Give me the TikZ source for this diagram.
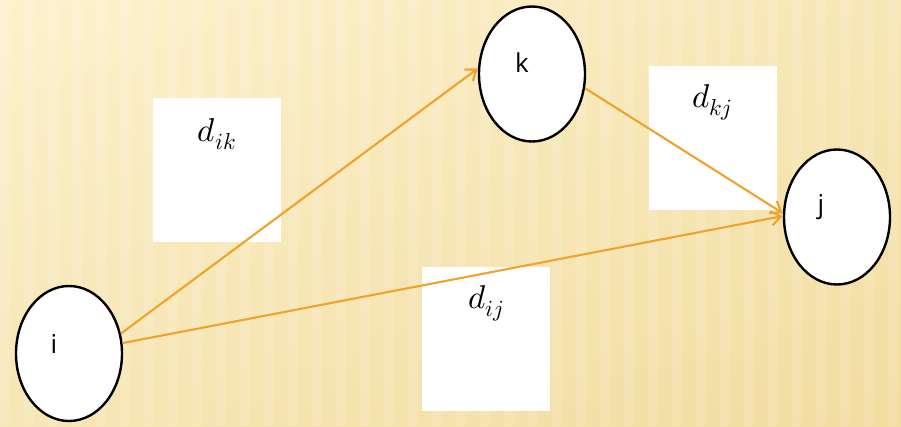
\documentclass[tikz,border=0pt]{standalone}
\usepackage{fontspec}
\usepackage{unicode-math}
\setsansfont{Open Sans}
\setmathfont{Latin Modern Math}
\usetikzlibrary{positioning,arrows.meta,shapes.geometric,calc}
\definecolor{creamlight}{RGB}{253,242,206}
\definecolor{creamdark}{RGB}{242,220,160}
\definecolor{arrorange}{RGB}{240,162,42}

\begin{document}
\begin{tikzpicture}[
  x=1pt, y=-1pt,
  vertex/.style={draw=black, line width=2.4pt, fill=white, ellipse, minimum width=106pt, minimum height=135pt, inner sep=0pt},
  vlabel/.style={font=\sffamily\fontsize{26}{30}\selectfont, text=black},
  weightbox/.style={fill=white, minimum width=128pt, minimum height=144pt, inner sep=0pt},
  wlabel/.style={font=\fontsize{33}{38}\selectfont},
  arr/.style={-{Straight Barb[length=3.5mm,width=5mm]}, line width=2.1pt, arrorange}
]
\useasboundingbox (0,0) rectangle (901,426);
% background
\shade[left color=creamlight, right color=creamdark] (0,0) rectangle (901,426);
\shade[top color=creamlight, bottom color=creamdark, opacity=0.5] (0,0) rectangle (901,426);
\foreach \x in {0,24,...,900}
  \fill[white, opacity=0.12] (\x,0) rectangle ++(10,426);
% weight boxes
\node[weightbox] (bik) at (217,169.5) {};
\node[weightbox] (bkj) at (713,137.5) {};
\node[weightbox] (bij) at (486,339) {};
\node[wlabel] (lik) at (217,134) {$d_{ik}$};
\node[wlabel] (lkj) at (712,102) {$d_{kj}$};
\node[wlabel] (lij) at (486,303) {$d_{ij}$};
% vertices
\node[vertex] (i) at (69,353.5) {};
\node[vertex] (k) at (532,74) {};
\node[vertex] (j) at (837,217) {};
\node[vlabel] (li) at (54,344) {i};
\node[vlabel] (lk) at (522,63) {k};
\node[vlabel] (lj) at (821,207) {j};
% edges
\draw[arr] (i.21) -- (k.174);
\draw[arr] (i.11) -- (j.179);
\draw[arr] (k.345) -- (j.176);
\end{tikzpicture}
\end{document}
